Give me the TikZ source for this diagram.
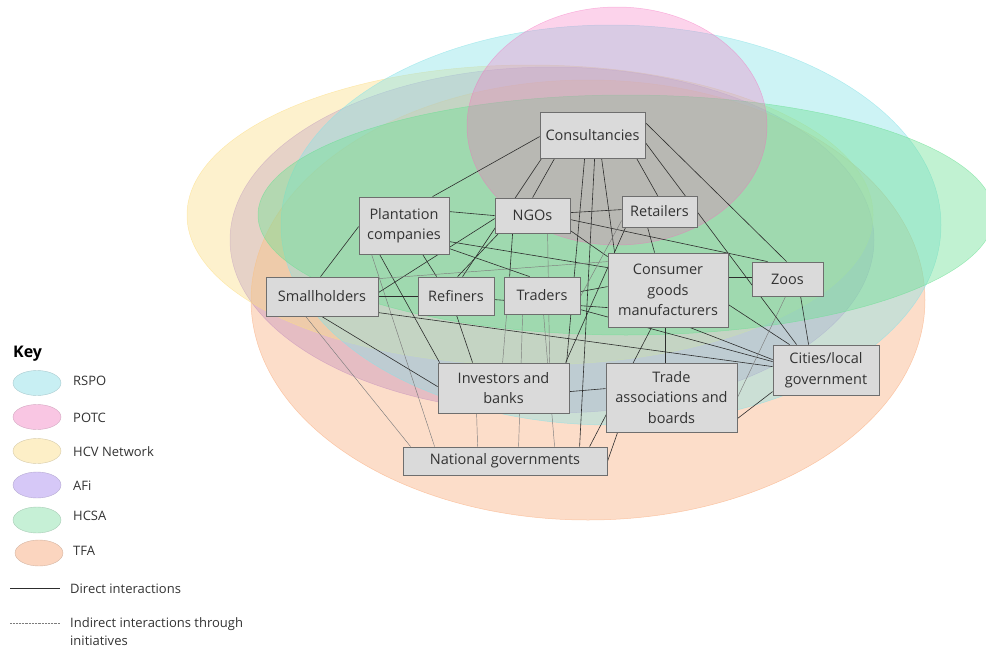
\documentclass[tikz,border=0pt]{standalone}
\usepackage{fontspec}
\setmainfont{Open Sans}
\usetikzlibrary{calc}
\pgfdeclarelayer{ell}
\pgfdeclarelayer{edges}
\pgfsetlayers{ell,edges,main}
\definecolor{cRSPO}{RGB}{137,226,231}
\definecolor{cPOTC}{RGB}{245,110,190}
\definecolor{cHCV}{RGB}{251,222,135}
\definecolor{cAFI}{RGB}{162,128,233}
\definecolor{cHCSA}{RGB}{108,224,148}
\definecolor{cTFA}{RGB}{248,173,126}
\definecolor{kRSPO}{RGB}{200,239,243}
\definecolor{kPOTC}{RGB}{249,198,227}
\definecolor{kHCV}{RGB}{253,239,199}
\definecolor{kAFI}{RGB}{214,200,247}
\definecolor{kHCSA}{RGB}{198,240,214}
\definecolor{kTFA}{RGB}{251,213,191}
\definecolor{boxfill}{RGB}{218,218,218}
\definecolor{boxline}{RGB}{110,110,110}
\definecolor{txt}{RGB}{51,51,51}
\definecolor{linec}{RGB}{45,45,45}
\definecolor{ilinec}{RGB}{125,125,125}
\begin{document}
\begin{tikzpicture}[x=1pt,y=-1pt,
  zone/.style={fill=#1, fill opacity=0.42, draw=#1, draw opacity=0.6, line width=0.5pt},
  topzone/.style={fill=#1, fill opacity=0.3, draw=#1, draw opacity=0.45, line width=0.5pt},
  box/.style={draw=boxline, fill=boxfill, line width=0.8pt, inner sep=0pt, align=center, text=txt, font=\fontsize{14.5}{20.5}\selectfont},
  direct/.style={draw=linec, line width=0.6pt},
  indirect/.style={draw=ilinec, line width=0.45pt},
  keyell/.style={fill=#1, draw=#1!85!black, line width=0.4pt},
  keytxt/.style={anchor=west, inner sep=0pt, text=txt, font=\fontsize{13}{18}\selectfont}
]
\useasboundingbox (0,0) rectangle (986,648);

% initiative zones
\begin{pgfonlayer}{ell}
\path[zone=cAFI]  (552,240) ellipse [x radius=322pt, y radius=173pt];
\path[zone=cTFA]  (588,300) ellipse [x radius=337pt, y radius=220pt];
\path[zone=cHCV]  (530,215) ellipse [x radius=343pt, y radius=150pt];
\path[zone=cRSPO] (611,225) ellipse [x radius=330pt, y radius=200pt];
\path[zone=cHCSA] (626,215) ellipse [x radius=368pt, y radius=120pt];
\path[topzone=cPOTC] (617,126) ellipse [x radius=150pt, y radius=119pt];
\end{pgfonlayer}

% actors
\node[box, minimum width=105pt, minimum height=46pt] (C) at (592.5,135) {Consultancies};
\node[box, minimum width=90pt, minimum height=57pt] (P) at (404,225.5) {Plantation\\companies};
\node[box, minimum width=75pt, minimum height=35pt] (N) at (532.5,215.5) {NGOs};
\node[box, minimum width=75pt, minimum height=31pt] (R) at (659.5,211.5) {Retailers};
\node[box, minimum width=112pt, minimum height=39pt] (S) at (322,296.5) {Smallholders};
\node[box, minimum width=76pt, minimum height=38pt] (F) at (456,296) {Refiners};
\node[box, minimum width=76pt, minimum height=37pt] (T) at (542,295.5) {Traders};
\node[box, minimum width=120pt, minimum height=74pt] (M) at (668,290) {Consumer\\goods\\manufacturers};
\node[box, minimum width=71pt, minimum height=34pt] (Z) at (787.5,279) {Zoos};
\node[box, minimum width=106pt, minimum height=50pt] (L) at (826,370) {Cities/local\\government};
\node[box, minimum width=131pt, minimum height=50pt] (I) at (503.5,388) {Investors and\\banks};
\node[box, minimum width=131pt, minimum height=69pt] (A) at (671.5,397.5) {Trade\\associations and\\boards};
\node[box, minimum width=204pt, minimum height=28pt] (G) at (505,461) {National governments};

% interactions
\begin{pgfonlayer}{edges}
\draw[direct] ($(C.north west)+(0,25)$) -- ($(P.north west)+(74,0)$);
\draw[direct] ($(C.south west)+(15,0)$) -- ($(N.north west)+(38,0)$);
\draw[direct] ($(C.south west)+(2,0)$) -- ($(F.north west)+(45,0)$);
\draw[direct] ($(C.south west)+(45,0)$) -- ($(I.north west)+(129,0)$);
\draw[direct] ($(C.south west)+(62,0)$) -- ($(M.north west)+(7,0)$);
\draw[direct] ($(C.south west)+(97,0)$) -- ($(R.north west)+(36,0)$);
\draw[direct] ($(C.north east)+(0,31)$) -- ($(L.north west)+(24,0)$);
\draw[direct] ($(C.north east)+(0,11)$) -- ($(Z.north west)+(35,0)$);
\draw[direct] ($(C.south west)+(55,0)$) -- ($(G.north west)+(177,0)$);
\draw[direct] ($(P.north east)+(0,15)$) -- ($(N.north west)+(0,18)$);
\draw[direct] ($(P.north east)+(0,45)$) -- ($(M.north west)+(0,15)$);
\draw[direct] ($(P.north east)+(0,52)$) -- ($(T.north west)+(26,0)$);
\draw[direct] ($(P.south west)+(64,0)$) -- ($(F.north west)+(19,0)$);
\draw[direct] ($(P.south west)+(21,0)$) -- ($(I.north west)+(2,0)$);
\draw[indirect] ($(P.south west)+(13,0)$) -- ($(G.north west)+(32,0)$);
\draw[direct] ($(S.north west)+(55,0)$) -- ($(P.north west)+(0,30)$);
\draw[direct] ($(S.north east)+(0,20)$) -- ($(F.north west)+(0,20)$);
\draw[direct] ($(S.north east)+(0,16)$) -- ($(N.north west)+(0,21)$);
\draw[indirect] ($(S.north east)+(0,2)$) -- ($(M.north west)+(0,9)$);
\draw[direct] ($(S.south west)+(56,0)$) -- ($(I.north west)+(0,24)$);
\draw[indirect] ($(S.south west)+(40,0)$) -- ($(G.north west)+(8,0)$);
\draw[direct] ($(S.north east)+(0,36)$) -- ($(L.north west)+(0,22)$);
\draw[direct] ($(N.north east)+(0,15)$) -- ($(R.north west)+(0,14)$);
\draw[direct] ($(N.north east)+(0,22)$) -- ($(Z.north west)+(16,0)$);
\draw[direct] ($(N.north east)+(0,33)$) -- ($(M.north west)+(0,4)$);
\draw[direct] ($(N.south west)+(4,0)$) -- ($(F.north west)+(40,0)$);
\draw[direct] ($(N.south west)+(18,0)$) -- ($(T.north west)+(6,0)$);
\draw[indirect] ($(N.south west)+(53,0)$) -- ($(I.north west)+(112,0)$);
\draw[direct] ($(R.south west)+(26,0)$) -- ($(M.north west)+(47,0)$);
\draw[indirect] ($(R.north west)+(0,25)$) -- ($(T.north east)+(0,20)$);
\draw[direct] ($(R.south west)+(4,0)$) -- ($(I.north west)+(128,0)$);
\draw[direct] ($(M.north east)+(0,25)$) -- ($(Z.north west)+(0,16)$);
\draw[direct] ($(M.north east)+(0,52)$) -- ($(L.north west)+(17,0)$);
\draw[direct] ($(M.south west)+(82,0)$) -- ($(L.north west)+(0,15)$);
\draw[direct] ($(M.south west)+(58,0)$) -- ($(A.north west)+(60,0)$);
\draw[direct] ($(M.south west)+(44,0)$) -- ($(G.north west)+(187,0)$);
\draw[direct] ($(T.north east)+(0,15)$) -- ($(M.north west)+(0,34)$);
\draw[direct] ($(F.north east)+(0,23)$) -- ($(M.north west)+(0,55)$);
\draw[direct] ($(T.north east)+(0,33)$) -- ($(L.north west)+(0,17)$);
\draw[indirect] ($(T.south west)+(3,0)$) -- ($(I.north west)+(65,0)$);
\draw[indirect] ($(T.south west)+(19,0)$) -- ($(G.north west)+(116,0)$);
\draw[indirect] ($(T.south west)+(40,0)$) -- ($(G.north west)+(152,0)$);
\draw[direct] ($(F.south west)+(39,0)$) -- ($(I.north west)+(35,0)$);
\draw[indirect] ($(I.south west)+(39,0)$) -- ($(G.north west)+(75,0)$);
\draw[direct] ($(I.north east)+(0,29)$) -- ($(A.north west)+(0,26)$);
\draw[direct] ($(A.south west)+(12,0)$) -- ($(G.north east)+(0,15)$);
\draw[direct] ($(A.north east)+(0,56)$) -- ($(L.north west)+(0,47)$);
\draw[indirect] ($(Z.south west)+(34,0)$) -- ($(A.north east)+(0,35)$);
\draw[direct] ($(Z.south west)+(49,0)$) -- ($(L.north west)+(36,0)$);
\end{pgfonlayer}

% key
\node[anchor=west, inner sep=0pt, text=black, font=\bfseries\fontsize{16}{19}\selectfont] (key) at (13,354) {Key};
\path[keyell=kRSPO] (37,383) ellipse [x radius=24pt, y radius=12.5pt];
\path[keyell=kPOTC] (37,417) ellipse [x radius=24pt, y radius=12.5pt];
\path[keyell=kHCV]  (37,451) ellipse [x radius=24pt, y radius=12.5pt];
\path[keyell=kAFI]  (37,485) ellipse [x radius=24pt, y radius=13pt];
\path[keyell=kHCSA] (37,520) ellipse [x radius=24pt, y radius=13pt];
\path[keyell=kTFA]  (39,553) ellipse [x radius=24pt, y radius=13pt];
\node[keytxt] (tRSPO) at (73,381) {RSPO};
\node[keytxt] (tPOTC) at (73,418) {POTC};
\node[keytxt] (tHCV)  at (73,452) {HCV Network};
\node[keytxt] (tAFI)  at (73,486) {AFi};
\node[keytxt] (tHCSA) at (73,516) {HCSA};
\node[keytxt] (tTFA)  at (73,551) {TFA};
\coordinate (d1) at (10,588);
\coordinate (d2) at (60,588);
\draw[direct] (d1) -- (d2);
\node[keytxt] (tdir) at (70,589) {Direct interactions};
\coordinate (i1) at (10,623);
\coordinate (i2) at (60,623);
\draw[indirect, densely dotted] (i1) -- (i2);
\node[keytxt, anchor=north west, align=left] (tind) at (70,617) {Indirect interactions through\\initiatives};
\end{tikzpicture}
\end{document}
